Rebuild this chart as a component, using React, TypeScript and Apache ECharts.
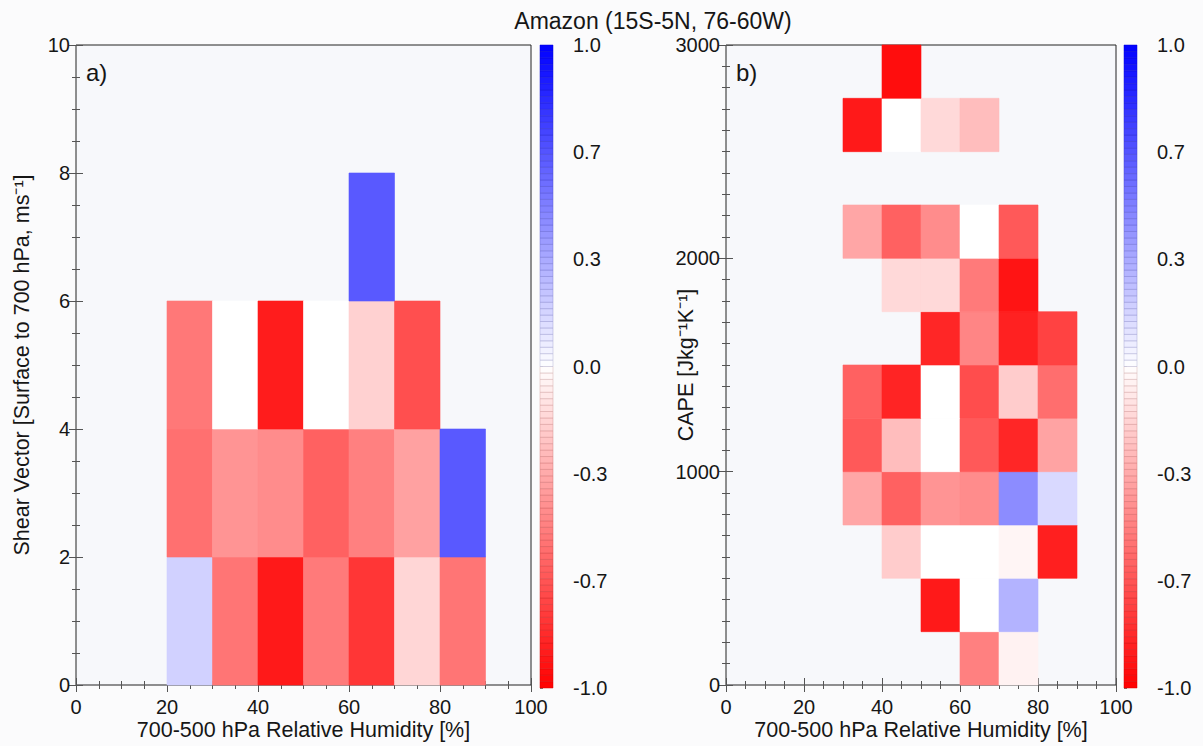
import { useEffect, useRef } from "react";
import * as echarts from "echarts";

// Relative-humidity bin starts (700-500 hPa, %), 10 % wide bins
const rhBinStarts = [0, 10, 20, 30, 40, 50, 60, 70, 80, 90];
const rhBinWidth = 10;

// Panel a: shear-vector bin starts (m/s), 2 m/s wide bins
const shearBinStarts = [0, 2, 4, 6, 8];
const shearBinWidth = 2;
// Correlation per (shear bin row, RH bin column); null = no data
const shearCorr: (number | null)[][] = [
  [null, null, 0.18, -0.54, -0.9, -0.52, -0.79, -0.16, -0.54, null],
  [null, null, -0.56, -0.42, -0.45, -0.62, -0.5, -0.37, 0.65, null],
  [null, null, -0.53, 0, -0.89, 0, -0.18, -0.69, null, null],
  [null, null, null, null, null, null, 0.65, null, null, null],
  [null, null, null, null, null, null, null, null, null, null],
];

// Panel b: CAPE bin starts (J/kg/K), 250 wide bins
const capeBinStarts = [0, 250, 500, 750, 1000, 1250, 1500, 1750, 2000, 2250, 2500, 2750];
const capeBinWidth = 250;
const capeCorr: (number | null)[][] = [
  [null, null, null, null, null, null, -0.5, -0.05, null, null],
  [null, null, null, null, null, -0.9, 0, 0.3, null, null],
  [null, null, null, null, -0.2, 0, 0, -0.04, -0.88, null],
  [null, null, null, -0.35, -0.62, -0.42, -0.45, 0.45, 0.15, null],
  [null, null, null, -0.65, -0.26, 0, -0.65, -0.85, -0.36, null],
  [null, null, null, -0.62, -0.86, 0, -0.7, -0.2, -0.57, null],
  [null, null, null, null, null, -0.85, -0.48, -0.87, -0.74, null],
  [null, null, null, null, -0.15, -0.15, -0.52, -0.92, null, null],
  [null, null, null, -0.35, -0.62, -0.45, 0, -0.65, null, null],
  [null, null, null, null, null, null, null, null, null, null],
  [null, null, null, -0.9, 0, -0.15, -0.26, null, null, null],
  [null, null, null, null, -0.95, null, null, null, null, null],
];

// Colour bar tick values and number of discrete colour levels
const colorTicks = [-1, -2 / 3, -1 / 3, 0, 1 / 3, 2 / 3, 1];
const colorLevels = 100;

const FONT = "Liberation Sans, Arial, Helvetica, sans-serif";
const TEXT = "#161616";

function corrColor(v: number): string {
  const t = Math.max(-1, Math.min(1, v));
  if (t < 0) {
    const c = Math.round(255 * (1 + t));
    return `rgb(255,${c},${c})`;
  }
  const c = Math.round(255 * (1 - t));
  return `rgb(${c},${c},255)`;
}

function darker(v: number): string {
  const t = Math.max(-1, Math.min(1, v));
  if (t < 0) {
    const c = Math.round(255 * (1 + t) * 0.72);
    return `rgb(215,${c},${c})`;
  }
  const c = Math.round(255 * (1 - t) * 0.72);
  return `rgb(${c},${c},215)`;
}

function cellSeries(
  axisIndex: number,
  yStarts: number[],
  rows: (number | null)[][],
  dy: number
) {
  const data: number[][] = [];
  rows.forEach((row, i) =>
    row.forEach((v, j) => {
      if (v !== null) data.push([rhBinStarts[j], yStarts[i], v]);
    })
  );
  return {
    type: "custom",
    xAxisIndex: axisIndex,
    yAxisIndex: axisIndex,
    data,
    encode: { x: 0, y: 1 },
    silent: true,
    z: 2,
    renderItem: (_params: any, api: any) => {
      const x0 = api.value(0);
      const y0 = api.value(1);
      const v = api.value(2);
      const p0 = api.coord([x0, y0 + dy]);
      const p1 = api.coord([x0 + rhBinWidth, y0]);
      return {
        type: "rect",
        shape: { x: p0[0], y: p0[1], width: p1[0] - p0[0], height: p1[1] - p0[1] },
        style: { fill: corrColor(v), stroke: corrColor(v), lineWidth: 0.6 },
      };
    },
  };
}

function colorbarSeries(axisIndex: number) {
  const data: number[][] = [];
  for (let i = 0; i < colorLevels; i++) {
    const lo = -1 + (2 * i) / colorLevels;
    const hi = -1 + (2 * (i + 1)) / colorLevels;
    data.push([lo, hi]);
  }
  return {
    type: "custom",
    xAxisIndex: axisIndex,
    yAxisIndex: axisIndex,
    data,
    silent: true,
    z: 2,
    renderItem: (_params: any, api: any) => {
      const lo = api.value(0);
      const hi = api.value(1);
      const mid = (lo + hi) / 2;
      const p0 = api.coord([0, hi]);
      const p1 = api.coord([1, lo]);
      return {
        type: "rect",
        shape: { x: p0[0], y: p0[1], width: p1[0] - p0[0], height: p1[1] - p0[1] },
        style: { fill: corrColor(mid), stroke: darker(mid), lineWidth: 0.5 },
      };
    },
  };
}

const tickStyle = { color: "#555", width: 1 };
const NAME_SIZE = 21.5;
const LABEL_SIZE = 20;

function panelAxes(gridIndex: number, max: number, interval: number, minorSplit: number, name: string, nameGap: number) {
  const xBottom = {
    type: "value",
    gridIndex,
    min: 0,
    max: 100,
    interval: 20,
    position: "bottom",
    name: "700-500 hPa Relative Humidity [%]",
    nameLocation: "middle",
    nameGap: 34,
    nameMoveOverlap: false,
    nameTextStyle: { fontFamily: FONT, fontSize: NAME_SIZE, color: TEXT },
    axisLine: { show: false },
    axisTick: { show: true, inside: true, length: 7, lineStyle: tickStyle },
    minorTick: { show: true, splitNumber: 4, length: 4, lineStyle: tickStyle },
    splitLine: { show: false },
    axisLabel: { fontFamily: FONT, fontSize: LABEL_SIZE, color: TEXT, margin: 12 },
  };
  const xTop = {
    ...xBottom,
    position: "top",
    name: "",
    axisLabel: { show: false },
  };
  const yLeft = {
    type: "value",
    gridIndex,
    min: 0,
    max,
    interval,
    position: "left",
    name,
    nameLocation: "middle",
    nameGap,
    nameMoveOverlap: false,
    nameTextStyle: { fontFamily: FONT, fontSize: NAME_SIZE, color: TEXT },
    axisLine: { show: false },
    axisTick: { show: true, inside: true, length: 7, lineStyle: tickStyle },
    minorTick: { show: true, splitNumber: minorSplit, length: 4, lineStyle: tickStyle },
    splitLine: { show: false },
    axisLabel: {
      fontFamily: FONT,
      fontSize: LABEL_SIZE,
      color: TEXT,
      margin: 6,
      formatter: (v: number) => String(v),
    },
  };
  const yRight = {
    ...yLeft,
    position: "right",
    name: "",
    axisLabel: { show: false },
  };
  return { x: [xBottom, xTop], y: [yLeft, yRight] };
}

function colorbarAxes(gridIndex: number) {
  return {
    x: {
      type: "value",
      gridIndex,
      min: 0,
      max: 1,
      show: false,
    },
    y: {
      type: "value",
      gridIndex,
      min: -1,
      max: 1,
      position: "right",
      axisLine: { show: false },
      splitLine: { show: false },
      axisTick: { show: true, length: 3, lineStyle: { color: "#777" }, customValues: colorTicks },
      axisLabel: {
        fontFamily: FONT,
        fontSize: LABEL_SIZE,
        color: TEXT,
        margin: 20,
        customValues: colorTicks,
        formatter: (v: number) => (Math.abs(v) < 1e-9 ? 0 : v).toFixed(1),
      },
    },
  };
}

export default function App() {
  const ref = useRef<HTMLDivElement>(null);

  useEffect(() => {
    if (!ref.current) return;
    const chart = echarts.init(ref.current, null, { renderer: "svg" });

    const a = panelAxes(0, 10, 2, 4, "Shear Vector [Surface to 700 hPa, ms\u207B\u00B9]", 43);
    const b = panelAxes(1, 3000, 1000, 10, "CAPE [Jkg\u207B\u00B9K\u207B\u00B9]", 29);
    const ca = colorbarAxes(2);
    const cb = colorbarAxes(3);

    const gridBase = { show: true, borderColor: "#222", borderWidth: 1, backgroundColor: "#f7f8fb", containLabel: false };

    chart.setOption({
      animation: false,
      backgroundColor: "#fbfbfc",
      title: {
        text: "Amazon (15S-5N, 76-60W)",
        left: 648,
        top: 4,
        textAlign: "center",
        textStyle: { fontFamily: FONT, fontSize: 23, fontWeight: "normal", color: TEXT },
      },
      grid: [
        { ...gridBase, left: 76, top: 45, width: 455, height: 643 },
        { ...gridBase, left: 726, top: 45, width: 390, height: 643 },
        { show: false, left: 540, top: 45, width: 13, height: 643 },
        { show: false, left: 1124, top: 45, width: 13, height: 643 },
      ],
      xAxis: [a.x[0], a.x[1], b.x[0], b.x[1], ca.x, cb.x],
      yAxis: [a.y[0], a.y[1], b.y[0], b.y[1], ca.y, cb.y],
      graphic: [
        { type: "text", left: 86, top: 60, style: { text: "a)", font: `24px ${FONT}`, fill: TEXT } },
        { type: "text", left: 736, top: 60, style: { text: "b)", font: `24px ${FONT}`, fill: TEXT } },
      ],
      series: [
        { ...cellSeries(0, shearBinStarts, shearCorr, shearBinWidth), xAxisIndex: 0, yAxisIndex: 0 },
        { ...cellSeries(2, capeBinStarts, capeCorr, capeBinWidth), xAxisIndex: 2, yAxisIndex: 2 },
        { ...colorbarSeries(4), xAxisIndex: 4, yAxisIndex: 4 },
        { ...colorbarSeries(5), xAxisIndex: 5, yAxisIndex: 5 },
      ],
    } as any);

    return () => chart.dispose();
  }, []);

  return (
    <div
      ref={ref}
      style={{ position: "fixed", left: 0, top: 0, width: 1203, height: 746 }}
    />
  );
}
